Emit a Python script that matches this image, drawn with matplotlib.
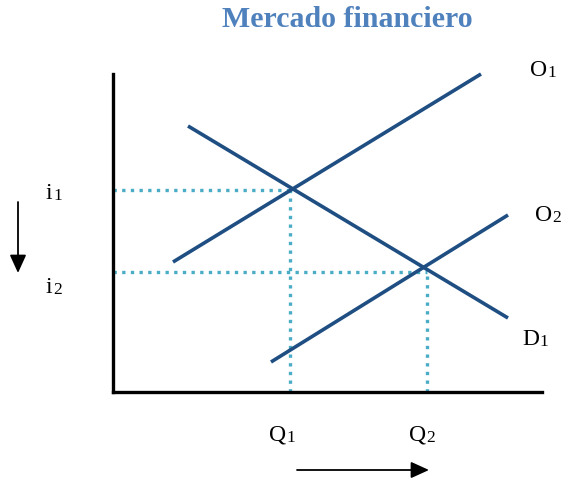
import matplotlib
matplotlib.use("Agg")
import matplotlib.pyplot as plt

plt.rcParams['font.family'] = ['Liberation Serif', 'DejaVu Serif']

# Curves (x = quantity, y = interest rate), in chart units
O1_x = [60, 368]
O1_y = [130, 318]
D1_x = [75, 395]
D1_y = [266, 74]
O2_x = [158, 395]
O2_y = [30, 177]

i_levels = [202, 120]     # i1, i2
q_levels = [177, 314]     # Q1, Q2
i_labels = [('i', '1'), ('i', '2')]
q_labels = [('Q', '1'), ('Q', '2')]
curve_labels = [('O', '1'), ('O', '2'), ('D', '1')]
title = "Mercado financiero"

W, H = 569, 481
fig = plt.figure(figsize=(W / 100, H / 100), dpi=100)
x0, y0, x1, y1 = 113, 75, 542, 393
ax = fig.add_axes([x0 / W, (H - y1) / H, (x1 - x0) / W, (y1 - y0) / H])
ax.set_xlim(0, x1 - x0)
ax.set_ylim(0, y1 - y0)
for s in ['top', 'right']:
    ax.spines[s].set_visible(False)
for s in ['left', 'bottom']:
    ax.spines[s].set_linewidth(2.4)
    ax.spines[s].set_color('black')
ax.set_xticks([])
ax.set_yticks([])
ax.patch.set_alpha(0)

line_color = '#1f4e82'
dot_color = '#4bacc6'

# dotted guides
for q, i in zip(q_levels, i_levels):
    ax.plot([0, q], [i, i], color=dot_color, lw=2.4, ls=(0, (1, 1.6)), dash_capstyle='butt')
    ax.plot([q, q], [0, i], color=dot_color, lw=2.4, ls=(0, (1, 1.6)), dash_capstyle='butt')

for xs, ys in [(O1_x, O1_y), (D1_x, D1_y), (O2_x, O2_y)]:
    ax.plot(xs, ys, color=line_color, lw=2.6, solid_capstyle='butt', clip_on=False)

def px(xp, yp):
    return xp - x0, y1 - yp

FS = 17
SFS = 12.5
WID = {'O': 0.722, 'Q': 0.722, 'D': 0.722, 'i': 0.278}

def label(xp, yp, parts):
    main, sub = parts
    ax.annotate(main, xy=px(xp, yp), xytext=(0, 0), textcoords='offset points',
                fontsize=FS, ha='left', va='baseline', annotation_clip=False)
    ax.annotate(sub, xy=px(xp, yp), xytext=(WID[main] * FS + 0.3, -0.8), textcoords='offset points',
                fontsize=SFS, ha='left', va='baseline', annotation_clip=False)

label(530, 76, curve_labels[0])
label(535, 221, curve_labels[1])
label(522, 345, curve_labels[2])
label(46, 199, i_labels[0])
label(46, 293, i_labels[1])
label(269, 441, q_labels[0])
label(409, 441, q_labels[1])

ax.text(*px(347, 20), title, fontsize=21.5, fontweight='bold', color='#4f81bd',
        ha='center', va='center', clip_on=False)

ax.annotate('', xy=px(18, 274), xytext=px(18, 203), annotation_clip=False,
            arrowprops=dict(arrowstyle='-|>,head_length=1.1,head_width=0.5', color='black', lw=1.3,
                            shrinkA=0, shrinkB=0))
ax.annotate('', xy=px(429, 471), xytext=px(297, 471), annotation_clip=False,
            arrowprops=dict(arrowstyle='-|>,head_length=1.1,head_width=0.5', color='black', lw=1.3,
                            shrinkA=0, shrinkB=0))

fig.savefig('out.png', dpi=100)
